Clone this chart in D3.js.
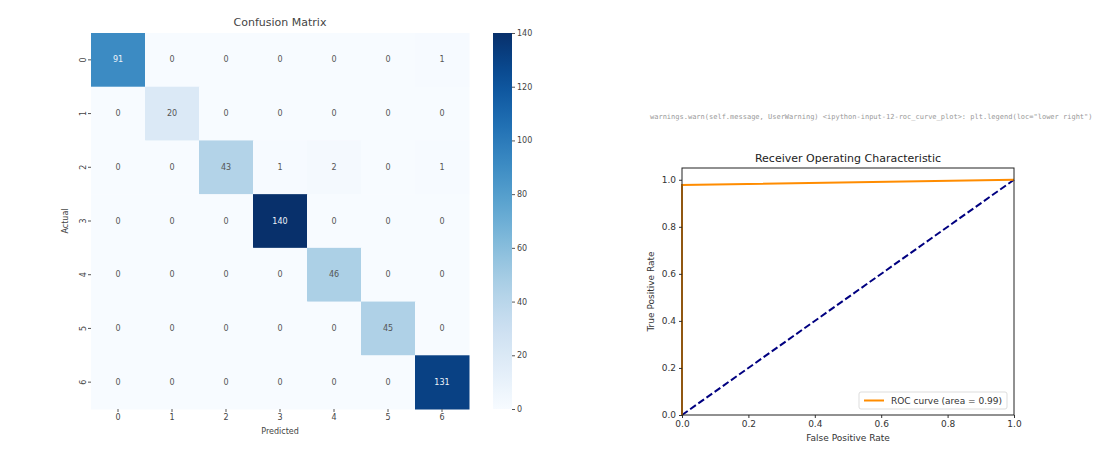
<!DOCTYPE html>
<html>
<head>
<meta charset="utf-8">
<script src="https://cdn.jsdelivr.net/npm/d3@7.9.0/dist/d3.min.js"></script>
<style>
  html, body { margin: 0; padding: 0; background: #fff; }
  svg { display: block; font-family: "DejaVu Sans", sans-serif; }
</style>
</head>
<body>
<svg id="chart" width="1094" height="450"></svg>
<script>
// confusion matrix data
const classes = [0, 1, 2, 3, 4, 5, 6];
const matrix = [
  [91, 0, 0, 0, 0, 0, 1],
  [0, 20, 0, 0, 0, 0, 0],
  [0, 0, 43, 1, 2, 0, 1],
  [0, 0, 0, 140, 0, 0, 0],
  [0, 0, 0, 0, 46, 0, 0],
  [0, 0, 0, 0, 0, 45, 0],
  [0, 0, 0, 0, 0, 0, 131]
];
const colorbarTicks = [0, 20, 40, 60, 80, 100, 120, 140];

// ROC data
const fpr = [0, 0, 1];
const tpr = [0, 0.978, 1];
const chanceX = [0, 1];
const chanceY = [0, 1];
const rocTicks = [0, 0.2, 0.4, 0.6, 0.8, 1.0];
const rocAuc = 0.99;

const svg = d3.select('#chart');

// ---------- confusion matrix ----------
const x = d3.scaleBand().domain(classes).range([91, 469]);
const y = d3.scaleBand().domain(classes).range([33, 409]);
const color = d3.scaleSequential(d3.interpolateBlues).domain([0, 140]);

const cells = [];
matrix.forEach((row, i) => row.forEach((v, j) => cells.push({ i, j, v })));

const hm = svg.append('g');
hm.selectAll('rect')
  .data(cells)
  .join('rect')
  .attr('x', d => x(d.j))
  .attr('y', d => y(d.i))
  .attr('width', x.bandwidth() + 0.5)
  .attr('height', y.bandwidth() + 0.5)
  .attr('fill', d => color(d.v));

hm.selectAll('text')
  .data(cells)
  .join('text')
  .attr('x', d => x(d.j) + x.bandwidth() / 2)
  .attr('y', d => y(d.i) + y.bandwidth() / 2)
  .attr('text-anchor', 'middle')
  .attr('dominant-baseline', 'central')
  .attr('font-size', 8)
  .attr('fill', d => d.v > 60 ? '#eef4fa' : '#555')
  .text(d => d.v);

const xAxis = svg.append('g')
  .attr('transform', 'translate(0,409)')
  .call(d3.axisBottom(x).tickSize(3).tickPadding(2));
const yAxis = svg.append('g')
  .attr('transform', 'translate(91,0)')
  .call(d3.axisLeft(y).tickSize(3).tickPadding(2));
[xAxis, yAxis].forEach(g => {
  g.select('.domain').remove();
  g.selectAll('line').attr('stroke', '#555');
  g.selectAll('text').attr('font-size', 8).attr('fill', '#444').attr('font-family', 'DejaVu Sans');
});
yAxis.selectAll('text')
  .attr('transform', function () {
    const t = d3.select(this);
    return `rotate(-90, ${t.attr('x')}, 0)`;
  })
  .attr('text-anchor', 'middle')
  .attr('dy', '0');

svg.append('text')
  .attr('x', 280).attr('y', 26)
  .attr('text-anchor', 'middle')
  .attr('font-size', 11).attr('fill', '#444')
  .text('Confusion Matrix');
svg.append('text')
  .attr('x', 280).attr('y', 434)
  .attr('text-anchor', 'middle')
  .attr('font-size', 8).attr('fill', '#444')
  .text('Predicted');
svg.append('text')
  .attr('transform', 'translate(68,221) rotate(-90)')
  .attr('text-anchor', 'middle')
  .attr('font-size', 8).attr('fill', '#444')
  .text('Actual');

// colorbar
const cb = d3.scaleLinear().domain([0, 140]).range([409, 33]);
const defs = svg.append('defs');
const grad = defs.append('linearGradient')
  .attr('id', 'cbgrad')
  .attr('x1', 0).attr('y1', 1).attr('x2', 0).attr('y2', 0);
d3.range(0, 1.0001, 0.05).forEach(t => {
  grad.append('stop').attr('offset', t).attr('stop-color', d3.interpolateBlues(t));
});
svg.append('rect')
  .attr('x', 493).attr('y', cb(140))
  .attr('width', 19).attr('height', cb(0) - cb(140))
  .attr('fill', 'url(#cbgrad)');
const cbAxis = svg.append('g')
  .attr('transform', 'translate(512,0)')
  .call(d3.axisRight(cb).tickValues(colorbarTicks).tickSize(3).tickPadding(2));
cbAxis.select('.domain').remove();
cbAxis.selectAll('line').attr('stroke', '#555');
cbAxis.selectAll('text').attr('font-size', 8).attr('fill', '#444').attr('font-family', 'DejaVu Sans');

// faint console output line (cut off in the screenshot)
svg.append('text')
  .attr('x', 650).attr('y', 119)
  .attr('font-family', '"DejaVu Sans Mono", monospace')
  .attr('font-size', 7).attr('fill', '#999')
  .text('warnings.warn(self.message, UserWarning)      <ipython-input-12-roc_curve_plot>: plt.legend(loc="lower right")');

// ---------- ROC ----------
const rx = d3.scaleLinear().domain([0, 1]).range([682, 1014]);
const ry = d3.scaleLinear().domain([0, 1.05]).range([415, 168]);

const line = d3.line().x(d => rx(d[0])).y(d => ry(d[1]));

svg.append('path')
  .datum(chanceX.map((v, i) => [v, chanceY[i]]))
  .attr('d', line)
  .attr('fill', 'none')
  .attr('stroke', 'navy')
  .attr('stroke-width', 2)
  .attr('stroke-dasharray', '7,3');

svg.append('path')
  .datum(fpr.map((v, i) => [v, tpr[i]]))
  .attr('d', line)
  .attr('fill', 'none')
  .attr('stroke', 'darkorange')
  .attr('stroke-width', 2);

const rxAxis = svg.append('g')
  .attr('transform', 'translate(0,415)')
  .call(d3.axisBottom(rx).tickValues(rocTicks).tickFormat(d3.format('.1f')).tickSize(3).tickPadding(3));
const ryAxis = svg.append('g')
  .attr('transform', 'translate(682,0)')
  .call(d3.axisLeft(ry).tickValues(rocTicks).tickFormat(d3.format('.1f')).tickSize(3).tickPadding(3));
[rxAxis, ryAxis].forEach(g => {
  g.select('.domain').remove();
  g.selectAll('line').attr('stroke', '#333');
  g.selectAll('text').attr('font-size', 9).attr('fill', '#333').attr('font-family', 'DejaVu Sans');
});

svg.append('rect')
  .attr('x', rx(0)).attr('y', ry(1.05))
  .attr('width', rx(1) - rx(0)).attr('height', ry(0) - ry(1.05))
  .attr('fill', 'none').attr('stroke', '#222').attr('stroke-width', 1);

svg.append('text')
  .attr('x', (rx(0) + rx(1)) / 2).attr('y', 162)
  .attr('text-anchor', 'middle')
  .attr('font-size', 11).attr('fill', '#222')
  .text('Receiver Operating Characteristic');
svg.append('text')
  .attr('x', (rx(0) + rx(1)) / 2).attr('y', 441)
  .attr('text-anchor', 'middle')
  .attr('font-size', 9).attr('fill', '#333')
  .text('False Positive Rate');
svg.append('text')
  .attr('transform', `translate(654,${(ry(0) + ry(1.05)) / 2}) rotate(-90)`)
  .attr('text-anchor', 'middle')
  .attr('font-size', 9).attr('fill', '#333')
  .text('True Positive Rate');

// legend
const lg = svg.append('g').attr('transform', 'translate(859,392)');
lg.append('rect')
  .attr('width', 148).attr('height', 17).attr('rx', 2)
  .attr('fill', '#fff').attr('fill-opacity', 0.8)
  .attr('stroke', '#ddd');
lg.append('line')
  .attr('x1', 5).attr('x2', 25).attr('y1', 8.5).attr('y2', 8.5)
  .attr('stroke', 'darkorange').attr('stroke-width', 2);
lg.append('text')
  .attr('x', 32).attr('y', 12)
  .attr('font-size', 9).attr('fill', '#333')
  .text(`ROC curve (area = ${rocAuc.toFixed(2)})`);
</script>
</body>
</html>
